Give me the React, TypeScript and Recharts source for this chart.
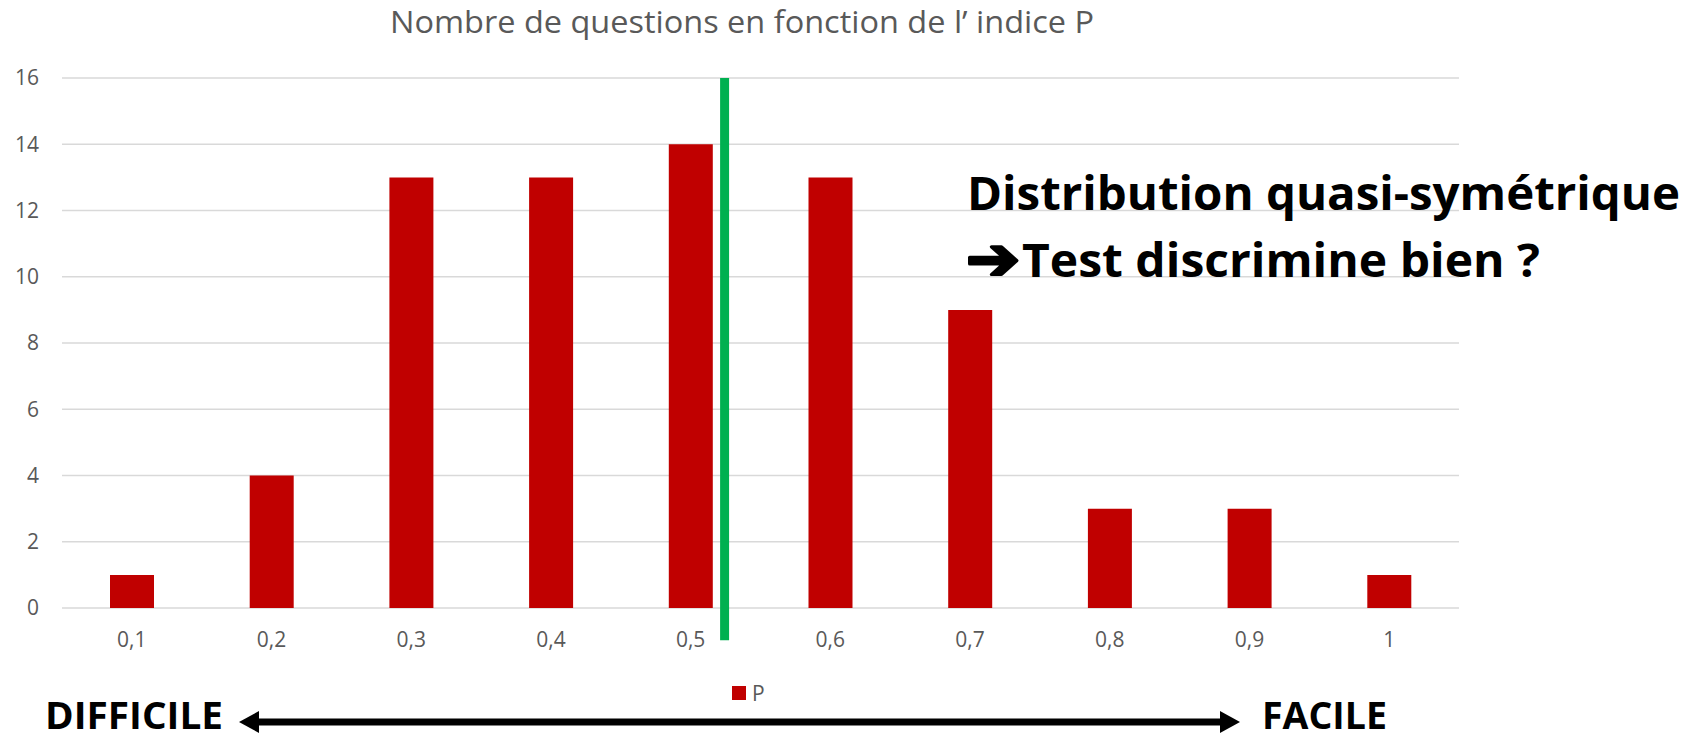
import { BarChart, Bar, XAxis, YAxis, CartesianGrid, Legend, ReferenceLine } from 'recharts';

const pValues = [0.1, 0.2, 0.3, 0.4, 0.5, 0.6, 0.7, 0.8, 0.9, 1];
const questionCounts = [1, 4, 13, 13, 14, 13, 9, 3, 3, 1];
const yTicks = [0, 2, 4, 6, 8, 10, 12, 14, 16];
const middleMarker = 0.5243;
const seriesName = 'P';

const chartTitle = 'Nombre de questions en fonction de l\u2019 indice P';
const noteLines = ['Distribution quasi-sym\u00e9trique', 'Test discrimine bien ?'];
const noteArrow = '\u2794';
const leftLabel = 'DIFFICILE';
const rightLabel = 'FACILE';

const data = pValues.map((p, i) => ({ p, count: questionCounts[i] }));

const grey = '#595959';
const red = '#C00000';
const green = '#00B050';

const tickStyle = { fill: grey, fontSize: 21, fontFamily: 'Open Sans' };

function LegendBox() {
  return (
    <div style={{ display: 'flex', alignItems: 'center', gap: 6, height: 24, fontFamily: 'Open Sans', fontSize: 21, color: grey }}>
      <span style={{ display: 'inline-block', width: 14, height: 14, background: red }} />
      {seriesName}
    </div>
  );
}

export default function App() {
  return (
    <div style={{ position: 'absolute', left: 0, top: 0, width: 1699, height: 741, background: '#fff' }}>
      <BarChart width={1699} height={741} data={data} margin={{ top: 78, right: 240, left: 0, bottom: 0 }}>
        <CartesianGrid vertical={false} stroke="#d9d9d9" strokeWidth={1.5} />
        <XAxis
          type="number"
          dataKey="p"
          domain={[0.05, 1.05]}
          ticks={pValues}
          interval={0}
          tickFormatter={(v: number) => String(v).replace('.', ',')}
          axisLine={false}
          tickLine={false}
          tickMargin={18}
          height={109}
          tick={tickStyle}
        />
        <YAxis
          domain={[0, 16]}
          ticks={yTicks}
          width={62}
          axisLine={false}
          tickLine={false}
          tickMargin={17}
          tick={tickStyle}
        />
        <Legend
          verticalAlign="bottom"
          content={() => <LegendBox />}
          wrapperStyle={{ left: 732, width: 'auto', bottom: 36 }}
        />
        <Bar dataKey="count" name={seriesName} fill={red} barSize={44} isAnimationActive={false} />
        <ReferenceLine
          segment={[{ x: middleMarker, y: 16 }, { x: middleMarker, y: -0.97 }]}
          stroke={green}
          strokeWidth={9}
          ifOverflow="visible"
        />
      </BarChart>

      <svg width={1699} height={741} style={{ position: 'absolute', left: 0, top: 0, pointerEvents: 'none' }}>
        <text x={390} y={33} textLength={704} lengthAdjust="spacingAndGlyphs" fontFamily="Open Sans" fontSize={31} fill={grey}>
          {chartTitle}
        </text>
        <text x={967} y={210} textLength={713} lengthAdjust="spacingAndGlyphs" fontFamily="Open Sans" fontWeight={700} fontSize={46} fill="#000">
          {noteLines[0]}
        </text>
        <text x={966} y={279} textLength={54} lengthAdjust="spacingAndGlyphs" fontFamily="DejaVu Sans" fontWeight={700} fontSize={58} fill="#000" stroke="#000" strokeWidth={3} strokeLinejoin="round">
          {noteArrow}
        </text>
        <text x={1022} y={277} textLength={518} lengthAdjust="spacingAndGlyphs" fontFamily="Open Sans" fontWeight={700} fontSize={46} fill="#000">
          {noteLines[1]}
        </text>
        <text x={45} y={729} textLength={178} lengthAdjust="spacingAndGlyphs" fontFamily="Open Sans" fontWeight={700} fontSize={38} fill="#000">
          {leftLabel}
        </text>
        <text x={1262} y={729} textLength={125} lengthAdjust="spacingAndGlyphs" fontFamily="Open Sans" fontWeight={700} fontSize={38} fill="#000">
          {rightLabel}
        </text>
        <line x1={256} y1={722} x2={1223} y2={722} stroke="#000" strokeWidth={7} />
        <polygon points="239,722 259,711 259,733" fill="#000" />
        <polygon points="1240,722 1220,711 1220,733" fill="#000" />
      </svg>
    </div>
  );
}
